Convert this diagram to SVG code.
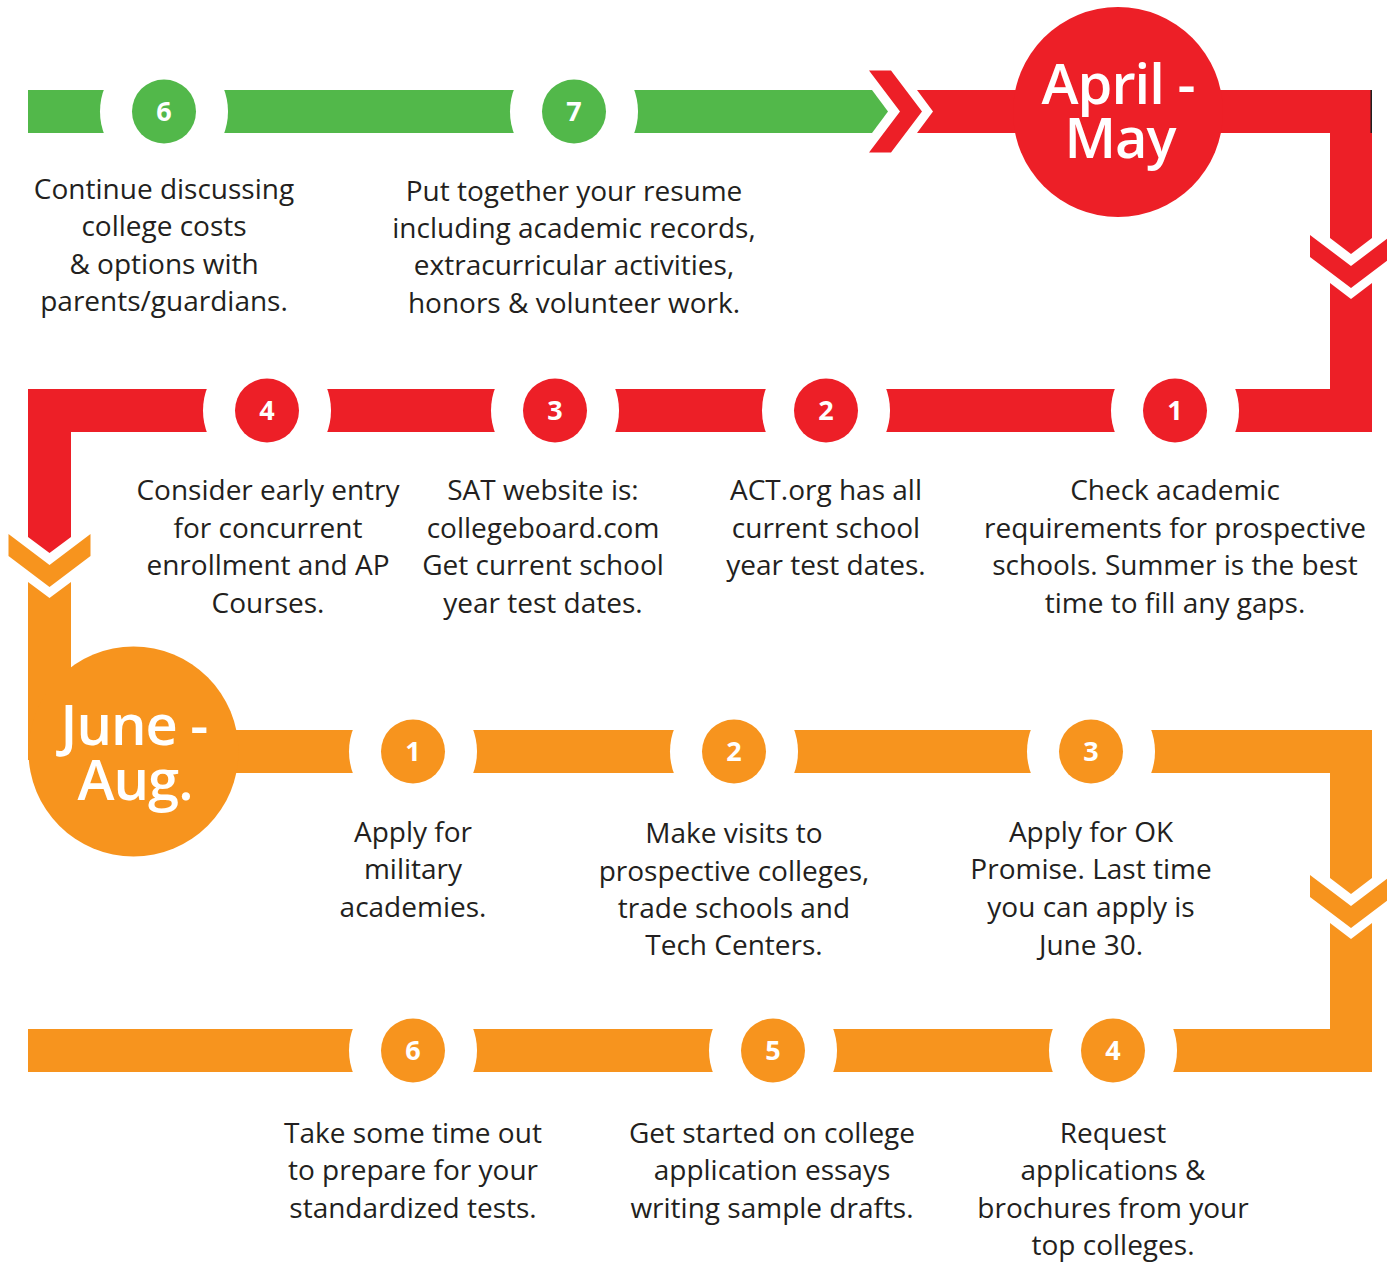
<svg xmlns="http://www.w3.org/2000/svg" width="1387" height="1264" viewBox="0 0 1387 1264">
<defs>
<style>
.g{fill:#52B84A}.r{fill:#ED1F27}.o{fill:#F7941E}.w{fill:#FFFFFF}
.num{font-family:"Open Sans","Noto Sans",sans-serif;font-weight:700;font-size:27px;fill:#FFFFFF;text-anchor:middle}
.big{font-family:"Open Sans","Noto Sans",sans-serif;font-weight:600;font-size:56px;fill:#FFFFFF;text-anchor:middle;letter-spacing:-1px}
.t{font-family:"Open Sans","Noto Sans",sans-serif;font-size:28px;fill:#231F20;text-anchor:middle}
</style>
</defs>
<rect width="1387" height="1264" fill="#FFFFFF"/>
<g id="connectors">
  <polygon class="g" points="28,90 872,90 888,111.5 872,133 28,133"/>
  <polygon class="r" points="869,70.5 900,111.5 869,152.5 891,152.5 922,111.5 891,70.5"/>
  <polygon class="r" points="917,90 1372,90 1372,238 1351,254 1330,238 1330,133 917,133 933,111.5"/>
  <rect x="1370.5" y="90" width="1.5" height="43" fill="#231F20"/>
  <polygon class="r" points="1310,235 1351,266 1392,235 1392,257 1351,288 1310,257"/>
  <polygon class="r" points="1330,283 1351,299 1372,283 1372,432 71,432 71,537 49.5,553 28,537 28,389 1330,389"/>
  <polygon class="o" points="8.5,534 49.5,565 90.5,534 90.5,556 49.5,587 8.5,556"/>
  <polygon class="o" points="28,582 49.5,598 71,582 71,760 28,760"/>
  <polygon class="o" points="133,730 1372,730 1372,878 1351,894 1330,878 1330,773 133,773"/>
  <polygon class="o" points="1310,875 1351,906 1392,875 1392,897 1351,928 1310,897"/>
  <polygon class="o" points="1330,923 1351,939 1372,923 1372,1072 28,1072 28,1029 1330,1029"/>
</g>
<g id="aprilMay">
  <circle class="r" cx="1118" cy="112" r="105"/>
  <text class="big"><tspan x="1118" y="104">April -</tspan><tspan x="1120" y="158">May</tspan></text>
</g>
<g id="juneAug">
  <circle class="o" cx="133.5" cy="751.5" r="105"/>
  <text class="big"><tspan x="134" y="745">June -</tspan><tspan x="135" y="800">Aug.</tspan></text>
</g>
<g id="g6">
  <circle class="w" cx="164" cy="111.5" r="64"/>
  <circle class="g" cx="164" cy="111.5" r="32"/>
  <text class="num" x="164" y="121">6</text>
  <text class="t"><tspan x="164" y="199">Continue discussing</tspan><tspan x="164" y="236">college costs</tspan><tspan x="164" y="274">&amp; options with</tspan><tspan x="164" y="311">parents/guardians.</tspan></text>
</g>
<g id="g7">
  <circle class="w" cx="574" cy="111.5" r="64"/>
  <circle class="g" cx="574" cy="111.5" r="32"/>
  <text class="num" x="574" y="121">7</text>
  <text class="t"><tspan x="574" y="201">Put together your resume</tspan><tspan x="574" y="238">including academic records,</tspan><tspan x="574" y="275">extracurricular activities,</tspan><tspan x="574" y="313">honors &amp; volunteer work.</tspan></text>
</g>
<g id="r4">
  <circle class="w" cx="267" cy="410.5" r="64"/>
  <circle class="r" cx="267" cy="410.5" r="32"/>
  <text class="num" x="267" y="420">4</text>
  <text class="t"><tspan x="268" y="500">Consider early entry</tspan><tspan x="268" y="538">for concurrent</tspan><tspan x="268" y="575">enrollment and AP</tspan><tspan x="268" y="613">Courses.</tspan></text>
</g>
<g id="r3">
  <circle class="w" cx="555" cy="410.5" r="64"/>
  <circle class="r" cx="555" cy="410.5" r="32"/>
  <text class="num" x="555" y="420">3</text>
  <text class="t"><tspan x="543" y="500">SAT website is:</tspan><tspan x="543" y="538">collegeboard.com</tspan><tspan x="543" y="575">Get current school</tspan><tspan x="543" y="613">year test dates.</tspan></text>
</g>
<g id="r2">
  <circle class="w" cx="826" cy="410.5" r="64"/>
  <circle class="r" cx="826" cy="410.5" r="32"/>
  <text class="num" x="826" y="420">2</text>
  <text class="t"><tspan x="826" y="500">ACT.org has all</tspan><tspan x="826" y="538">current school</tspan><tspan x="826" y="575">year test dates.</tspan></text>
</g>
<g id="r1">
  <circle class="w" cx="1175" cy="410.5" r="64"/>
  <circle class="r" cx="1175" cy="410.5" r="32"/>
  <text class="num" x="1175" y="420">1</text>
  <text class="t"><tspan x="1175" y="500">Check academic</tspan><tspan x="1175" y="538">requirements for prospective</tspan><tspan x="1175" y="575">schools. Summer is the best</tspan><tspan x="1175" y="613">time to fill any gaps.</tspan></text>
</g>
<g id="o1">
  <circle class="w" cx="413" cy="751.5" r="64"/>
  <circle class="o" cx="413" cy="751.5" r="32"/>
  <text class="num" x="413" y="761">1</text>
  <text class="t"><tspan x="413" y="842">Apply for</tspan><tspan x="413" y="879">military</tspan><tspan x="413" y="917">academies.</tspan></text>
</g>
<g id="o2">
  <circle class="w" cx="734" cy="751.5" r="64"/>
  <circle class="o" cx="734" cy="751.5" r="32"/>
  <text class="num" x="734" y="761">2</text>
  <text class="t"><tspan x="734" y="843">Make visits to</tspan><tspan x="734" y="881">prospective colleges,</tspan><tspan x="734" y="918">trade schools and</tspan><tspan x="734" y="955">Tech Centers.</tspan></text>
</g>
<g id="o3">
  <circle class="w" cx="1091" cy="751.5" r="64"/>
  <circle class="o" cx="1091" cy="751.5" r="32"/>
  <text class="num" x="1091" y="761">3</text>
  <text class="t"><tspan x="1091" y="842">Apply for OK</tspan><tspan x="1091" y="879">Promise. Last time</tspan><tspan x="1091" y="917">you can apply is</tspan><tspan x="1091" y="955">June 30.</tspan></text>
</g>
<g id="o4">
  <circle class="w" cx="1113" cy="1050.5" r="64"/>
  <circle class="o" cx="1113" cy="1050.5" r="32"/>
  <text class="num" x="1113" y="1060">4</text>
  <text class="t"><tspan x="1113" y="1143">Request</tspan><tspan x="1113" y="1180">applications &amp;</tspan><tspan x="1113" y="1218">brochures from your</tspan><tspan x="1113" y="1255">top colleges.</tspan></text>
</g>
<g id="o5">
  <circle class="w" cx="773" cy="1050.5" r="64"/>
  <circle class="o" cx="773" cy="1050.5" r="32"/>
  <text class="num" x="773" y="1060">5</text>
  <text class="t"><tspan x="772" y="1143">Get started on college</tspan><tspan x="772" y="1180">application essays</tspan><tspan x="772" y="1218">writing sample drafts.</tspan></text>
</g>
<g id="o6">
  <circle class="w" cx="413" cy="1050.5" r="64"/>
  <circle class="o" cx="413" cy="1050.5" r="32"/>
  <text class="num" x="413" y="1060">6</text>
  <text class="t"><tspan x="413" y="1143">Take some time out</tspan><tspan x="413" y="1180">to prepare for your</tspan><tspan x="413" y="1218">standardized tests.</tspan></text>
</g>
</svg>
